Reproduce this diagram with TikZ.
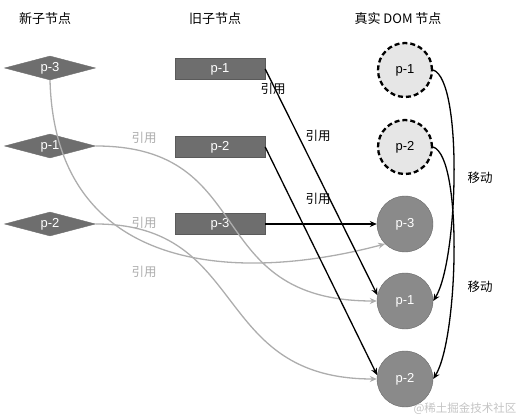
\documentclass[tikz,border=0pt]{standalone}
\usepackage{fontspec}
\setmainfont{Liberation Sans}
\newfontfamily\cjk{Noto Sans CJK SC}
\usetikzlibrary{shapes.geometric,arrows.meta}
\definecolor{boxgray}{HTML}{6E6E6E}
\definecolor{boxedge}{HTML}{5A5A5A}
\definecolor{ghostfill}{HTML}{E6E6E6}
\definecolor{realfill}{HTML}{8A8A8A}
\definecolor{realedge}{HTML}{6A6A6A}
\definecolor{linegray}{HTML}{ADADAD}
\definecolor{markgray}{HTML}{C4C4C4}

\begin{document}
\begin{tikzpicture}[x=1pt,y=-1pt,
  pfont/.style={font=\fontsize{13}{15}\selectfont},
  newnode/.style={diamond,aspect=3.8,fill=boxgray,draw=boxgray,text=white,minimum width=91pt,minimum height=24pt,inner sep=0pt,pfont},
  oldnode/.style={rectangle,fill=boxgray,draw=boxedge,text=white,minimum width=90pt,minimum height=21pt,inner sep=0pt,pfont},
  ghostnode/.style={circle,draw=black,line width=2.3pt,dash pattern=on 5pt off 3pt,fill=ghostfill,minimum size=54pt,inner sep=0pt,pfont},
  realnode/.style={circle,fill=realfill,draw=realedge,text=white,minimum size=56pt,inner sep=0pt,pfont},
  head/.style={font=\cjk\fontsize{13}{15}\selectfont},
  lbl/.style={font=\cjk\fontsize{12.5}{14}\selectfont},
  lblgray/.style={lbl,text=linegray},
  ref/.style={-{Stealth[length=7pt,width=6pt]},line width=1.3pt},
  refgray/.style={ref,draw=linegray}]
  \useasboundingbox (0,0) rectangle (516,419);

  \node[head] (hnew) at (45,19) {新子节点};
  \node[head] (hold) at (215,19) {旧子节点};
  \node[head] (hdom) at (398,19) {真实 DOM 节点};

  \node[newnode] (n3) at (50,68) {p-3};
  \node[newnode] (n1) at (50,146) {p-1};
  \node[newnode] (n2) at (50,224) {p-2};

  \node[oldnode] (o1) at (220,69) {p-1};
  \node[oldnode] (o2) at (220,147) {p-2};
  \node[oldnode] (o3) at (220,224) {p-3};

  \node[ghostnode] (g1) at (405,70) {p-1};
  \node[ghostnode] (g2) at (405,147) {p-2};
  \node[realnode] (d3) at (405,224) {p-3};
  \node[realnode] (d1) at (405,301) {p-1};
  \node[realnode] (d2) at (405,379) {p-2};

  \draw[refgray] (n3.south) .. controls (55,270) and (230,285) .. (d3.south west);
  \draw[refgray] (n1.east) .. controls (260,146) and (200,301) .. (d1.west);
  \draw[refgray] (n2.east) .. controls (250,224) and (210,379) .. (d2.west);
  \node[lblgray] (r1) at (144,138) {引用};
  \node[lblgray] (r2) at (144,223) {引用};
  \node[lblgray] (r3) at (144,272) {引用};

  \draw[ref] (o1.east) -- (d1.168);
  \draw[ref] (o2.east) -- (d2.172);
  \draw[ref] (o3.east) -- (d3.west);
  \node[lbl] (b1) at (273,89) {引用};
  \node[lbl] (b2) at (318,136) {引用};
  \node[lbl] (b3) at (318,199) {引用};

  \draw[ref] (g1.east) .. controls +(30,10) and +(25,-40) .. (d1.east);
  \draw[ref] (g2.east) .. controls +(30,10) and +(25,-40) .. (d2.east);
  \node[lbl] (m1) at (480,178) {移动};
  \node[lbl] (m2) at (480,287) {移动};

  \node[font=\cjk\fontsize{11.5}{13}\selectfont,text=markgray] (wm) at (465,409) {@稀土掘金技术社区};
\end{tikzpicture}
\end{document}
